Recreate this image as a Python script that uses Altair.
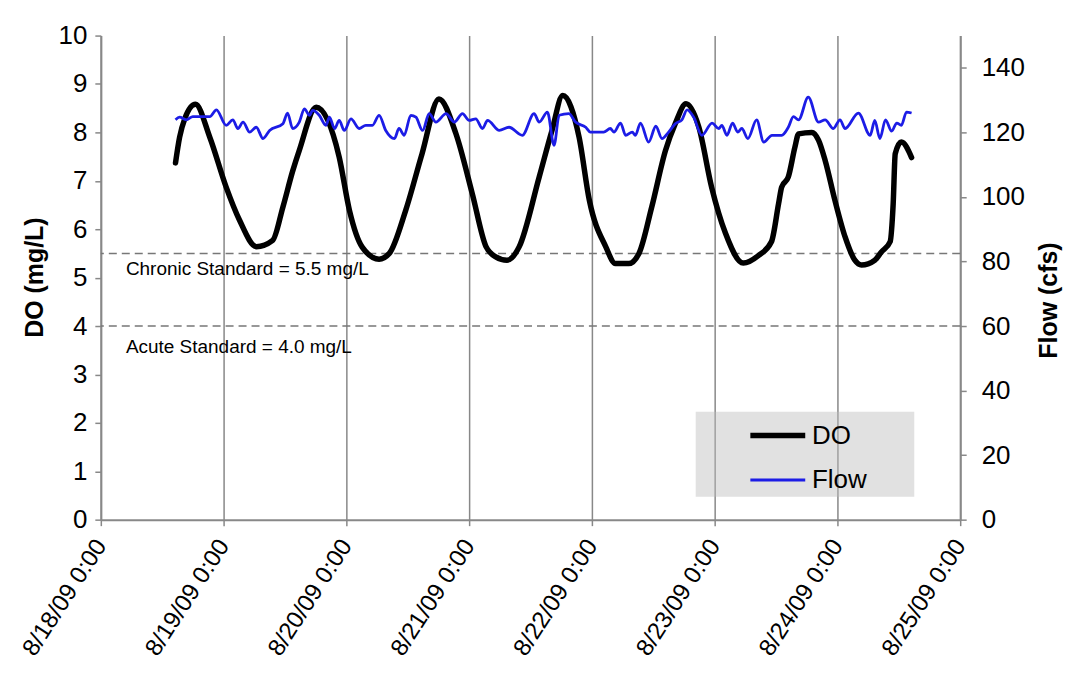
import altair as alt
import pandas as pd

# ---- data (hours after 8/18/09 0:00) ----
do_hours = [14.6, 15.4, 16.4, 18.5, 21.3, 24.5, 27.1, 30.4, 33.6, 35.6, 37.5, 38.8, 42.1,
            46.6, 48.6, 51.1, 54.4, 56.4, 59.6, 62.8, 66.1, 69.4, 72.6, 75.3, 77.2, 79.4,
            81.8, 85.7, 88.2, 90.3, 93.5, 95.5, 98.7, 100.6, 103.2, 105.2, 107.7, 110.4,
            112.3, 114.4, 116.9, 119.4, 122.1, 125.6, 128.6, 131.1, 132.5, 133.1, 134.4,
            135.7, 136.4, 139.0, 140.3, 141.6, 143.5, 145.5, 147.4, 148.7, 151.3, 152.6,
            154.3, 154.9, 155.3, 156.5, 158.5]
do_values = [7.37, 7.90, 8.28, 8.58, 7.90, 6.87, 6.19, 5.64, 5.77, 6.46, 7.20, 7.63, 8.52,
             7.49, 6.39, 5.63, 5.38, 5.50, 6.39, 7.56, 8.69, 7.98, 6.74, 5.64, 5.43, 5.36,
             5.64, 7.08, 8.04, 8.76, 7.90, 6.60, 5.64, 5.29, 5.29, 5.50, 6.46, 7.63,
             8.18, 8.59, 8.11, 6.87, 5.92, 5.30, 5.46, 5.74, 6.53, 6.87, 7.08,
             7.70, 7.97, 8.00, 7.84, 7.42, 6.60, 5.84, 5.36, 5.26, 5.36, 5.53,
             5.74, 6.53, 7.56, 7.80, 7.48]

flow_hours = [14.6, 15.4, 16.7, 18.0, 21.3, 22.6, 24.5, 25.8, 26.8, 27.8, 29.1, 30.4, 31.7,
              33.0, 35.6, 36.5, 37.5, 38.8, 39.8, 40.8, 41.4, 42.7, 44.0, 44.7, 45.7, 46.6,
              47.6, 48.9, 50.5, 51.8, 53.1, 54.4, 55.7, 57.4, 58.3, 59.3, 60.6, 61.6, 62.9,
              64.2, 65.5, 67.5, 69.1, 70.7, 72.0, 73.3, 74.6, 75.6, 77.9, 79.8, 82.4, 84.7,
              85.7, 87.3, 88.6, 89.6, 91.5, 92.8, 94.8, 95.7, 98.3, 99.6, 100.3, 101.6,
              102.6, 103.9, 104.5, 105.5, 107.1, 108.5, 109.7, 111.0, 112.3, 113.6, 114.6,
              115.9, 117.5, 119.5, 120.8, 121.4, 122.4, 123.5, 124.5, 125.3, 126.5, 128.2,
              129.6, 131.2, 133.1, 134.4, 135.4, 136.4, 138.3, 140.3, 141.6, 143.2, 144.5,
              145.5, 148.1, 150.4, 151.3, 152.3, 153.4, 154.6, 155.6, 156.5, 157.5, 158.5]
flow_values = [123.9, 124.7, 123.9, 124.9, 124.9, 127.0, 122.2, 123.9, 121.2, 123.2, 120.1,
               121.6, 118.1, 120.6, 122.7, 126.0, 121.2, 123.2, 127.3, 125.3, 126.8, 125.3,
               122.2, 124.7, 121.2, 123.7, 120.6, 124.2, 121.2, 122.2, 122.2, 125.3, 120.6,
               118.1, 121.2, 119.1, 125.3, 124.7, 120.6, 125.8, 123.2, 125.8, 123.2, 125.8,
               123.7, 124.2, 121.2, 123.7, 120.6, 121.6, 119.1, 125.8, 123.2, 126.3, 116.0,
               125.3, 125.8, 123.2, 121.6, 120.1, 120.1, 121.2, 120.1, 122.9, 119.1, 120.1,
               119.1, 122.9, 117.0, 121.9, 118.1, 120.1, 122.7, 123.9, 127.0, 124.7, 119.1,
               122.9, 121.2, 122.2, 119.1, 122.9, 120.1, 121.2, 118.1, 123.9, 117.0, 119.1,
               119.1, 121.6, 124.9, 123.9, 130.9, 123.2, 123.9, 121.2, 123.9, 121.2, 126.0,
               119.1, 123.7, 118.1, 123.9, 120.4, 122.9, 122.2, 126.3, 126.0]

standard_values = [5.5, 4.0]
standard_labels = ["Chronic Standard = 5.5 mg/L", "Acute Standard = 4.0 mg/L"]
label_values = [5.05, 3.45]
label_hours = [4.9, 4.9]

series_names = ["DO", "Flow"]
series_colors = ["#000000", "#1c1ce6"]
series_widths = [5.5, 2.8]

day_ticks = [18, 19, 20, 21, 22, 23, 24, 25]
do_ticks = list(range(0, 11))
flow_ticks = [0, 20, 40, 60, 80, 100, 120, 140]

FONT = "Liberation Sans"
AXIS_GRAY = "#888888"

start = pd.Timestamp("2009-08-18")


def times(hours):
    return [start + pd.to_timedelta(h, unit="h") for h in hours]


do_df = pd.DataFrame({"time": times(do_hours), "value": do_values, "series": "DO"})
flow_df = pd.DataFrame({"time": times(flow_hours), "value": flow_values, "series": "Flow"})
std_df = pd.DataFrame({"value": standard_values})
lab_df = pd.DataFrame({"time": times(label_hours), "value": label_values, "label": standard_labels})

x_enc = alt.X(
    "time:T",
    title="",
    scale=alt.Scale(domain=[alt.DateTime(year=2009, month=8, date=18),
                            alt.DateTime(year=2009, month=8, date=25)]),
    axis=alt.Axis(
        values=[alt.DateTime(year=2009, month=8, date=d) for d in day_ticks],
        labelExpr="timeFormat(datum.value, '%-m/%-d/%y %-H:%M')",
        labelAngle=303, labelAlign="right", labelBaseline="middle",
        labelFontSize=24, labelFont=FONT, labelColor="black", labelPadding=16,
        labelFlush=False, labelOverlap=False,
        tickSize=6, tickColor=AXIS_GRAY, tickWidth=1.5,
        domainColor=AXIS_GRAY, domainWidth=2,
        grid=True, gridColor=AXIS_GRAY, gridWidth=1.5,
    ),
)

y_do = alt.Y(
    "value:Q",
    scale=alt.Scale(domain=[0, 10], nice=False),
    axis=alt.Axis(
        orient="left", values=do_ticks, grid=False,
        title="DO (mg/L)", titleFont=FONT, titleFontSize=25, titleFontWeight="bold",
        titleColor="black", titleAngle=270, titleX=-66, titleY=242,
        titleAlign="center", titleBaseline="middle",
        labelFontSize=26, labelFont=FONT, labelColor="black", labelPadding=8,
        tickSize=6, tickColor=AXIS_GRAY, tickWidth=1.5,
        domainColor=AXIS_GRAY, domainWidth=2,
    ),
)

y_flow = alt.Y(
    "value:Q",
    scale=alt.Scale(domain=[0, 150], nice=False),
    axis=alt.Axis(
        orient="right", values=flow_ticks, grid=False,
        title="Flow (cfs)", titleFont=FONT, titleFontSize=25, titleFontWeight="bold",
        titleColor="black", titleAngle=270, titleX=88, titleY=265,
        titleAlign="center", titleBaseline="middle",
        labelFontSize=26, labelFont=FONT, labelColor="black", labelPadding=15,
        tickSize=6, tickColor=AXIS_GRAY, tickWidth=1.5,
        domainColor=AXIS_GRAY, domainWidth=2,
    ),
)

legend = alt.Legend(
    title="", orient="none", legendX=661.75, legendY=384.25,
    symbolType="M-2,0H2", symbolSize=756, labelFontSize=26, labelFont=FONT,
    labelColor="black", labelOffset=17.75, rowPadding=15.5, padding=0,
)

color_enc = alt.Color("series:N", scale=alt.Scale(domain=series_names, range=series_colors),
                      legend=legend)
width_enc = alt.StrokeWidth("series:N", scale=alt.Scale(domain=series_names, range=series_widths),
                            legend=legend)

legend_box = alt.Chart(pd.DataFrame({"a": [0]})).mark_rect(
    fill="#bdbdbd", opacity=0.45
).encode(x=alt.value(596), x2=alt.value(815), y=alt.value(377), y2=alt.value(462))

do_line = alt.Chart(do_df).mark_line(interpolate="monotone", strokeCap="round",
                                     strokeJoin="round").encode(
    x=x_enc, y=y_do, color=color_enc, strokeWidth=width_enc)

rules = alt.Chart(std_df).mark_rule(color="#777777", strokeWidth=1.5,
                                    strokeDash=[8, 5]).encode(y=y_do)

texts = alt.Chart(lab_df).mark_text(align="left", baseline="alphabetic", fontSize=19,
                                    font=FONT, color="black").encode(
    x=x_enc, y=y_do, text="label:N")

left = alt.layer(rules, do_line, texts)

flow_line = alt.Chart(flow_df).mark_line(interpolate="monotone", strokeJoin="round").encode(
    x=x_enc, y=y_flow, color=color_enc, strokeWidth=width_enc)

chart = alt.layer(legend_box, left, flow_line).resolve_scale(y="independent").properties(
    width=861, height=485,
    padding={"left": 93, "top": 27, "right": 104, "bottom": 150},
    autosize=alt.AutoSizeParams(type="none"),
).configure(font=FONT).configure_view(strokeWidth=0)

chart.save("out.html", embed_options={"renderer": "svg", "actions": False})
